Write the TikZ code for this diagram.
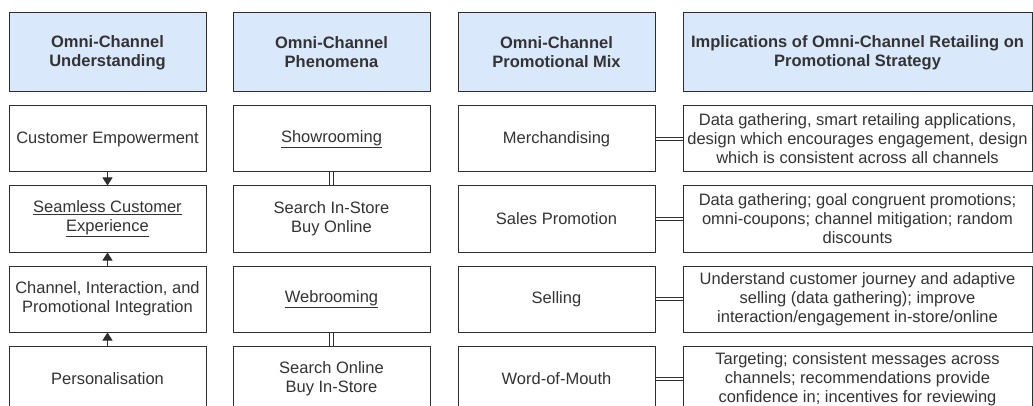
\documentclass[tikz,border=0pt]{standalone}
\usepackage{fontspec}
\setmainfont{Liberation Sans}
\usetikzlibrary{positioning,arrows.meta}
\definecolor{headfill}{HTML}{DAE8FC}
\definecolor{edgegray}{HTML}{2E2E2E}
\definecolor{textgray}{HTML}{333333}
\begin{document}
\begin{tikzpicture}[
        x=1pt, y=1pt,
        node distance=13pt, % Расстояние между блоками
        base/.style={draw=edgegray, line width=1pt, align=center, text=textgray,
            font=\fontsize{16.5}{19}\selectfont, inner sep=0pt},
        head/.style={base, fill=headfill, minimum height=79pt, font=\fontsize{16.5}{19}\selectfont\bfseries},
        cell/.style={base, fill=white, minimum height=66pt}, % Стиль блоков
        narrow/.style={minimum width=197pt},
        wide/.style={minimum width=349pt},
        arr/.style={draw=edgegray, line width=1pt, -{Triangle[width=10pt,length=8pt]}},
        dbl/.style={draw=edgegray, line width=0.9pt, double=white, double distance=2.6pt},
    ]
    \clip (0,0) rectangle (1033,-406);

    % Заголовки столбцов
    \node[head, narrow] (h1) at (107.5,-52.5) {Omni-Channel\\Understanding};
    \node[head, narrow] (h2) at (331.5,-52.5) {Omni-Channel\\Phenomena};
    \node[head, narrow] (h3) at (556.5,-52.5) {Omni-Channel\\Promotional Mix};
    \node[head, wide]   (h4) at (857.5,-52.5) {Implications of Omni-Channel Retailing on\\Promotional Strategy};

    % Первый столбец
    \node[cell, narrow, below=of h1] (u1) {Customer Empowerment};
    \node[cell, narrow, below=of u1] (u2) {\underline{Seamless Customer}\\\underline{Experience}};
    \node[cell, narrow, below=of u2] (u3) {Channel, Interaction, and\\Promotional Integration};
    \node[cell, narrow, below=of u3] (u4) {Personalisation};

    % Второй столбец
    \node[cell, narrow, below=of h2] (p1) {\underline{Showrooming}};
    \node[cell, narrow, below=of p1] (p2) {Search In-Store\\Buy Online};
    \node[cell, narrow, below=of p2] (p3) {\underline{Webrooming}};
    \node[cell, narrow, below=of p3] (p4) {Search Online\\Buy In-Store};

    % Третий столбец
    \node[cell, narrow, below=of h3] (m1) {Merchandising};
    \node[cell, narrow, below=of m1] (m2) {Sales Promotion};
    \node[cell, narrow, below=of m2] (m3) {Selling};
    \node[cell, narrow, below=of m3] (m4) {Word-of-Mouth};

    % Четвертый столбец
    \node[cell, wide, below=of h4] (s1) {Data gathering, smart retailing applications,\\design which encourages engagement, design\\which is consistent across all channels};
    \node[cell, wide, below=of s1] (s2) {Data gathering; goal congruent promotions;\\omni-coupons; channel mitigation; random\\discounts};
    \node[cell, wide, below=of s2] (s3) {Understand customer journey and adaptive\\selling (data gathering); improve\\interaction/engagement in-store/online};
    \node[cell, wide, below=of s3] (s4) {Targeting; consistent messages across\\channels; recommendations provide\\confidence in; incentives for reviewing};

    % Связи
    \draw[arr] (u1) -- (u2);
    \draw[arr] (u3) -- (u2);
    \draw[arr] (u4) -- (u3);
    \draw[dbl] (p1) -- (p2);
    \draw[dbl] (p3) -- (p4);
    \foreach \i in {1,...,4}
        \draw[dbl] (m\i) -- (s\i);
\end{tikzpicture}
\end{document}
